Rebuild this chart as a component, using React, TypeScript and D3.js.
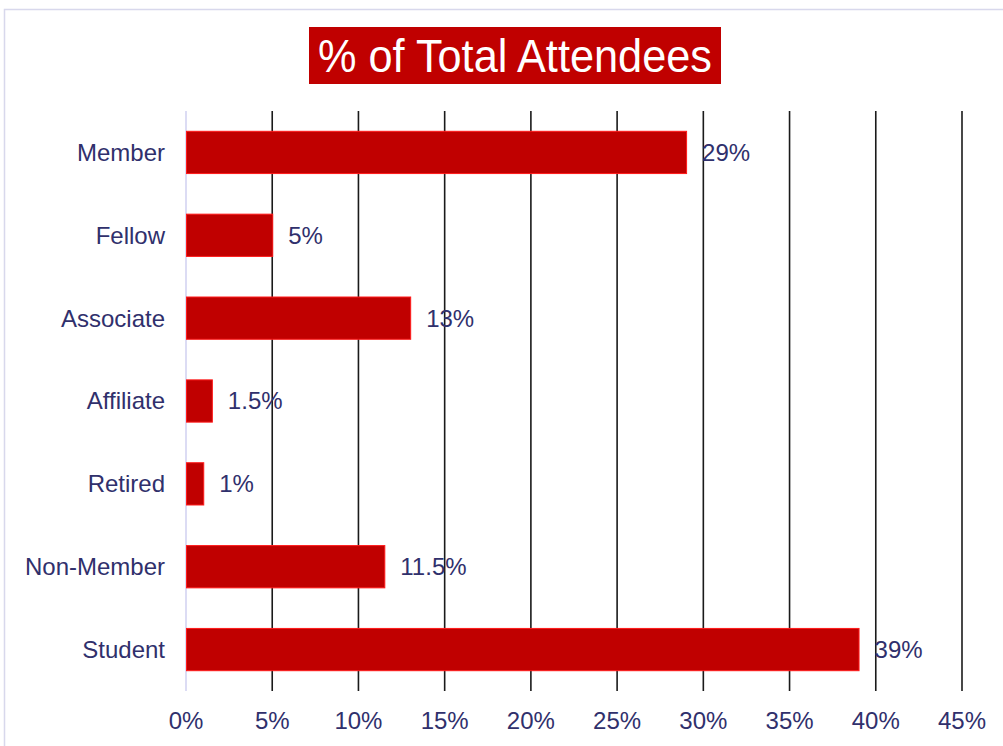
import React, { useEffect, useRef } from 'react';
import * as d3 from 'd3';

const categories = ['Member', 'Fellow', 'Associate', 'Affiliate', 'Retired', 'Non-Member', 'Student'];
const values = [29, 5, 13, 1.5, 1, 11.5, 39];
const tickValues = [0, 5, 10, 15, 20, 25, 30, 35, 40, 45];

const App: React.FC = () => {
  const svgRef = useRef<SVGSVGElement>(null);

  useEffect(() => {
    if (!svgRef.current) return;
    const svg = d3.select(svgRef.current);
    svg.selectAll('*').remove();

    const width = 1003;
    const height = 746;
    const left = 186;
    const right = 962;
    const top = 111;
    const bottom = 691;
    const textColor = '#30306c';
    const font = '"Liberation Sans", Arial, sans-serif';
    const fontSize = 24;

    const x = d3.scaleLinear().domain([0, 45]).range([left, right]);
    const y = d3.scaleBand<string>().domain(categories).range([top, bottom]).paddingInner(0.49).paddingOuter(0.245);

    // outer frame
    svg.append('rect')
      .attr('x', 4.5).attr('y', 9.5)
      .attr('width', width + 50).attr('height', height + 50)
      .attr('fill', 'none')
      .attr('stroke', '#d8d8ec')
      .attr('stroke-width', 1.5);

    // title
    svg.append('rect')
      .attr('x', 309).attr('y', 27)
      .attr('width', 412).attr('height', 57)
      .attr('fill', '#c00000');
    svg.append('text')
      .attr('x', 515).attr('y', 72)
      .attr('text-anchor', 'middle')
      .attr('fill', '#ffffff')
      .attr('font-family', font)
      .attr('font-size', 47)
      .attr('textLength', 394)
      .attr('lengthAdjust', 'spacingAndGlyphs')
      .text('% of Total Attendees');

    // gridlines
    svg.append('g')
      .selectAll('line')
      .data(tickValues.filter(d => d > 0))
      .join('line')
      .attr('x1', d => x(d)).attr('x2', d => x(d))
      .attr('y1', top).attr('y2', bottom)
      .attr('stroke', '#1a1a1a')
      .attr('stroke-width', 1.6);

    // left axis line
    svg.append('line')
      .attr('x1', left).attr('x2', left)
      .attr('y1', top).attr('y2', bottom)
      .attr('stroke', '#d0d0f0')
      .attr('stroke-width', 1.5);

    // bars
    svg.append('g')
      .selectAll('rect')
      .data(values)
      .join('rect')
      .attr('x', x(0) + 0.5)
      .attr('y', (d, i) => y(categories[i])!)
      .attr('width', d => x(d) - x(0))
      .attr('height', y.bandwidth())
      .attr('fill', '#c00000')
      .attr('stroke', '#ff1a1a')
      .attr('stroke-width', 1);

    // value labels
    svg.append('g')
      .selectAll('text')
      .data(values)
      .join('text')
      .attr('x', d => x(d) + 16)
      .attr('y', (d, i) => y(categories[i])! + y.bandwidth() / 2)
      .attr('dy', '0.35em')
      .attr('fill', textColor)
      .attr('font-family', font)
      .attr('font-size', fontSize)
      .text(d => `${d}%`);

    // category labels
    svg.append('g')
      .selectAll('text')
      .data(categories)
      .join('text')
      .attr('x', 165)
      .attr('y', d => y(d)! + y.bandwidth() / 2)
      .attr('dy', '0.35em')
      .attr('text-anchor', 'end')
      .attr('fill', textColor)
      .attr('font-family', font)
      .attr('font-size', fontSize)
      .text(d => d);

    // tick labels
    svg.append('g')
      .selectAll('text')
      .data(tickValues)
      .join('text')
      .attr('x', d => x(d))
      .attr('y', 729)
      .attr('text-anchor', 'middle')
      .attr('fill', textColor)
      .attr('font-family', font)
      .attr('font-size', fontSize)
      .text(d => `${d}%`);
  }, []);

  return (
    <svg
      ref={svgRef}
      width={1003}
      height={746}
      style={{ position: 'absolute', left: 0, top: 0, background: '#ffffff' }}
    />
  );
};

export default App;
